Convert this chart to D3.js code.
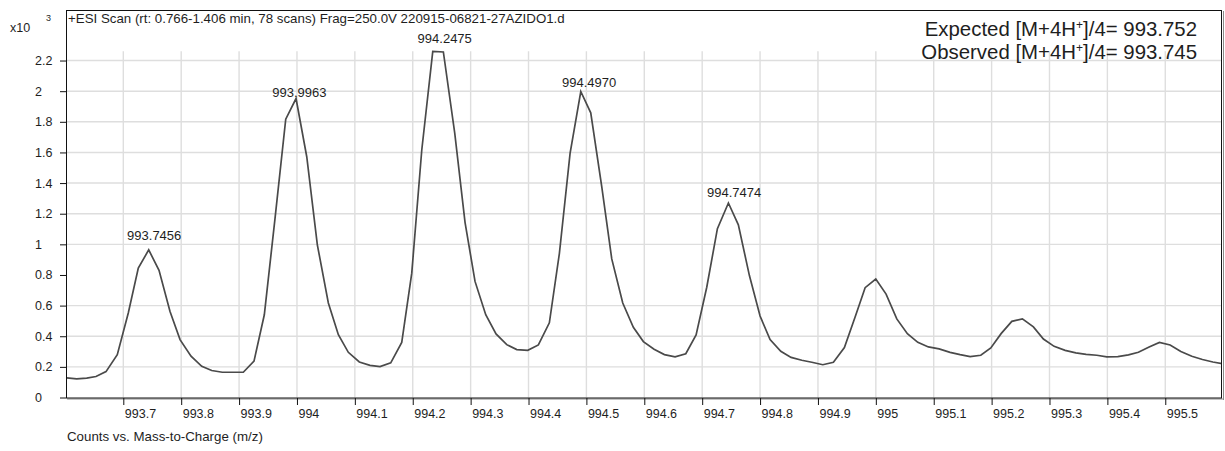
<!DOCTYPE html>
<html>
<head>
<meta charset="utf-8">
<script src="https://cdn.jsdelivr.net/npm/d3@7"></script>
<style>
  body { margin: 0; background: #fff; }
  text { font-family: "Liberation Sans", Arial, sans-serif; fill: #1e1e1e; }
</style>
</head>
<body>
<svg id="chart" width="1225" height="451"></svg>
<script>
// Profile spectrum: m/z and counts (x10^3)
const mz = [
  993.6022, 993.6195, 993.6368, 993.6528, 993.6701, 993.6896, 993.7086, 993.7259, 993.7439, 993.7617,
  993.7807, 993.7980, 993.8170, 993.8355, 993.8527, 993.8710, 993.8895, 993.9073, 993.9258, 993.9436,
  993.9621, 993.9806, 993.9984, 994.0169, 994.0352, 994.0542, 994.0715, 994.0887, 994.1077, 994.1262,
  994.1435, 994.1620, 994.1810, 994.1983, 994.2156, 994.2346, 994.2529, 994.2726, 994.2904, 994.3076,
  994.3261, 994.3439, 994.3624, 994.3797, 994.3987, 994.4170, 994.4360, 994.4533, 994.4718, 994.4903,
  994.5075, 994.5265, 994.5438, 994.5628, 994.5811, 994.5984, 994.6169, 994.6347, 994.6532, 994.6717,
  994.6895, 994.7079, 994.7263, 994.7453, 994.7625, 994.7816, 994.8000, 994.8173, 994.8358, 994.8536,
  994.8721, 994.8894, 994.9084, 994.9267, 994.9457, 994.9642, 994.9815, 994.9999, 995.0177, 995.0362,
  995.0545, 995.0725, 995.0908, 995.1093, 995.1283, 995.1456, 995.1629, 995.1813, 995.1986, 995.2164,
  995.2349, 995.2532, 995.2722, 995.2895, 995.3080, 995.3270, 995.3455, 995.3633, 995.3818, 995.3990,
  995.4180, 995.4364, 995.4536, 995.4721, 995.4899, 995.5084, 995.5269, 995.5459, 995.5642, 995.5822,
  995.5990
];
const counts = [
  0.128, 0.122, 0.126, 0.137, 0.169, 0.280, 0.552, 0.845, 0.964, 0.830,
  0.562, 0.378, 0.270, 0.204, 0.176, 0.165, 0.165, 0.165, 0.237, 0.540,
  1.170, 1.817, 1.952, 1.572, 0.997, 0.617, 0.410, 0.295, 0.232, 0.210,
  0.202, 0.226, 0.360, 0.812, 1.616, 2.260, 2.256, 1.724, 1.142, 0.758,
  0.541, 0.415, 0.345, 0.313, 0.308, 0.343, 0.488, 0.940, 1.594, 1.998,
  1.859, 1.377, 0.905, 0.617, 0.458, 0.365, 0.315, 0.280, 0.265, 0.286,
  0.408, 0.720, 1.102, 1.270, 1.127, 0.796, 0.532, 0.378, 0.302, 0.262,
  0.243, 0.230, 0.214, 0.230, 0.326, 0.525, 0.717, 0.773, 0.675, 0.513,
  0.417, 0.360, 0.330, 0.317, 0.295, 0.280, 0.267, 0.276, 0.324, 0.417,
  0.497, 0.513, 0.461, 0.382, 0.334, 0.308, 0.291, 0.282, 0.276, 0.265,
  0.267, 0.278, 0.295, 0.330, 0.360, 0.343, 0.300, 0.269, 0.248, 0.232,
  0.221
];

// Centroid labels
const peakMz = [993.7456, 993.9963, 994.2475, 994.4970, 994.7474];
const peakHeight = [1.016, 1.952, 2.302, 2.011, 1.298];

// Axis ticks
const xTicks = [993.7, 993.8, 993.9, 994.0, 994.1, 994.2, 994.3, 994.4, 994.5,
                994.6, 994.7, 994.8, 994.9, 995.0, 995.1, 995.2, 995.3, 995.4, 995.5];
const xTickLabels = ["993.7", "993.8", "993.9", "994", "994.1", "994.2", "994.3", "994.4", "994.5",
                     "994.6", "994.7", "994.8", "994.9", "995", "995.1", "995.2", "995.3", "995.4", "995.5"];
const yTicks = [0, 0.2, 0.4, 0.6, 0.8, 1.0, 1.2, 1.4, 1.6, 1.8, 2.0, 2.2];
const yTickLabels = ["0", "0.2", "0.4", "0.6", "0.8", "1", "1.2", "1.4", "1.6", "1.8", "2", "2.2"];
const yGrid = [0.2, 0.4, 0.6, 1.0, 1.2, 1.4, 1.6, 1.8, 2.0, 2.2];

const titleText = "+ESI Scan (rt: 0.766-1.406 min, 78 scans) Frag=250.0V 220915-06821-27AZIDO1.d";
const xAxisTitle = "Counts vs. Mass-to-Charge (m/z)";

const svg = d3.select("#chart");

const x = d3.scaleLinear().domain([993.601, 995.598]).range([66, 1222]);
const y = d3.scaleLinear().domain([0, 2.53]).range([397.5, 10]);

const [x0, x1] = x.range();
const [yb, yt] = y.range();

svg.append("rect").attr("width", 1225).attr("height", 451).attr("fill", "#fff");

// clip for the trace
svg.append("defs").append("clipPath").attr("id", "plot-clip")
  .append("rect").attr("x", x0).attr("y", yt).attr("width", x1 - x0).attr("height", yb - yt);

// grid
const grid = svg.append("g").attr("stroke", "#dedede").attr("stroke-width", 1.4);
const gridTop = y(d3.max(counts));
grid.selectAll("line.v").data(xTicks).join("line")
  .attr("x1", d => x(d)).attr("x2", d => x(d))
  .attr("y1", gridTop).attr("y2", yb);
grid.selectAll("line.h").data(yGrid).join("line")
  .attr("x1", x0).attr("x2", x1)
  .attr("y1", d => y(d)).attr("y2", d => y(d));

// trace
const line = d3.line().x((d, i) => x(mz[i])).y(d => y(d));
svg.append("path")
  .attr("clip-path", "url(#plot-clip)")
  .attr("d", line(counts))
  .attr("fill", "none")
  .attr("stroke", "#4a4a4a")
  .attr("stroke-width", 1.7)
  .attr("stroke-linejoin", "miter");

// frame with shadow on right/bottom
svg.append("line").attr("x1", x1 + 1.5).attr("x2", x1 + 1.5).attr("y1", yt + 1).attr("y2", yb + 2.5)
  .attr("stroke", "#8a8a8a").attr("stroke-width", 1);
svg.append("line").attr("x1", x0 + 1).attr("x2", x1 + 2).attr("y1", yb + 1.5).attr("y2", yb + 1.5)
  .attr("stroke", "#8a8a8a").attr("stroke-width", 1);
svg.append("rect")
  .attr("x", x0 + 0.5).attr("y", yt + 0.5)
  .attr("width", x1 - x0 - 1).attr("height", yb - yt)
  .attr("fill", "none").attr("stroke", "#111").attr("stroke-width", 1);

// x axis
const xAxis = d3.axisBottom(x).tickValues(xTicks).tickSize(7).tickFormat((d, i) => xTickLabels[i]);
const gx = svg.append("g").attr("transform", `translate(0,${yb + 0.5})`).call(xAxis);
gx.select(".domain").remove();
gx.selectAll(".tick line").attr("stroke", "#111");
gx.selectAll(".tick text")
  .attr("text-anchor", "start").attr("x", 1).attr("y", 11)
  .style("font-family", '"Liberation Sans", Arial, sans-serif')
  .style("font-size", "12.5px").attr("fill", "#1e1e1e");

// y axis
const yAxis = d3.axisLeft(y).tickValues(yTicks).tickSize(6).tickFormat((d, i) => yTickLabels[i]);
const gy = svg.append("g").attr("transform", `translate(${x0},0)`).call(yAxis);
gy.select(".domain").remove();
gy.selectAll(".tick line").attr("stroke", "#111");
gy.selectAll(".tick text")
  .attr("text-anchor", "start").attr("x", 35 - x0)
  .style("font-family", '"Liberation Sans", Arial, sans-serif')
  .style("font-size", "12.5px").attr("fill", "#1e1e1e");

// exponent marker
svg.append("text").attr("x", 10).attr("y", 32).style("font-size", "12.5px").text("x10");
svg.append("text").attr("x", 46).attr("y", 21).style("font-size", "9px").text("3");

// title inside frame
svg.append("text").attr("x", x0 + 2).attr("y", 23).style("font-size", "13.3px").text(titleText);

// peak labels
svg.selectAll("text.peak").data(peakMz).join("text")
  .attr("class", "peak")
  .attr("x", d => x(d) + 4.5)
  .attr("y", (d, i) => y(peakHeight[i]) - 2)
  .attr("text-anchor", "middle")
  .style("font-size", "13px")
  .text(d => d.toFixed(4));

// annotation
const ann = svg.append("g").attr("font-size", "20.4px");
const t1 = ann.append("text").attr("x", 1197).attr("y", 36).attr("text-anchor", "end");
t1.append("tspan").text("Expected [M+4H");
t1.append("tspan").attr("dy", -7).attr("font-size", "12px").text("+");
t1.append("tspan").attr("dy", 7).text("]/4= 993.752");
const t2 = ann.append("text").attr("x", 1197).attr("y", 59).attr("text-anchor", "end");
t2.append("tspan").text("Observed [M+4H");
t2.append("tspan").attr("dy", -7).attr("font-size", "12px").text("+");
t2.append("tspan").attr("dy", 7).text("]/4= 993.745");

// x axis title
svg.append("text").attr("x", x0 + 1).attr("y", 441).style("font-size", "13.3px").text(xAxisTitle);
</script>
</body>
</html>
